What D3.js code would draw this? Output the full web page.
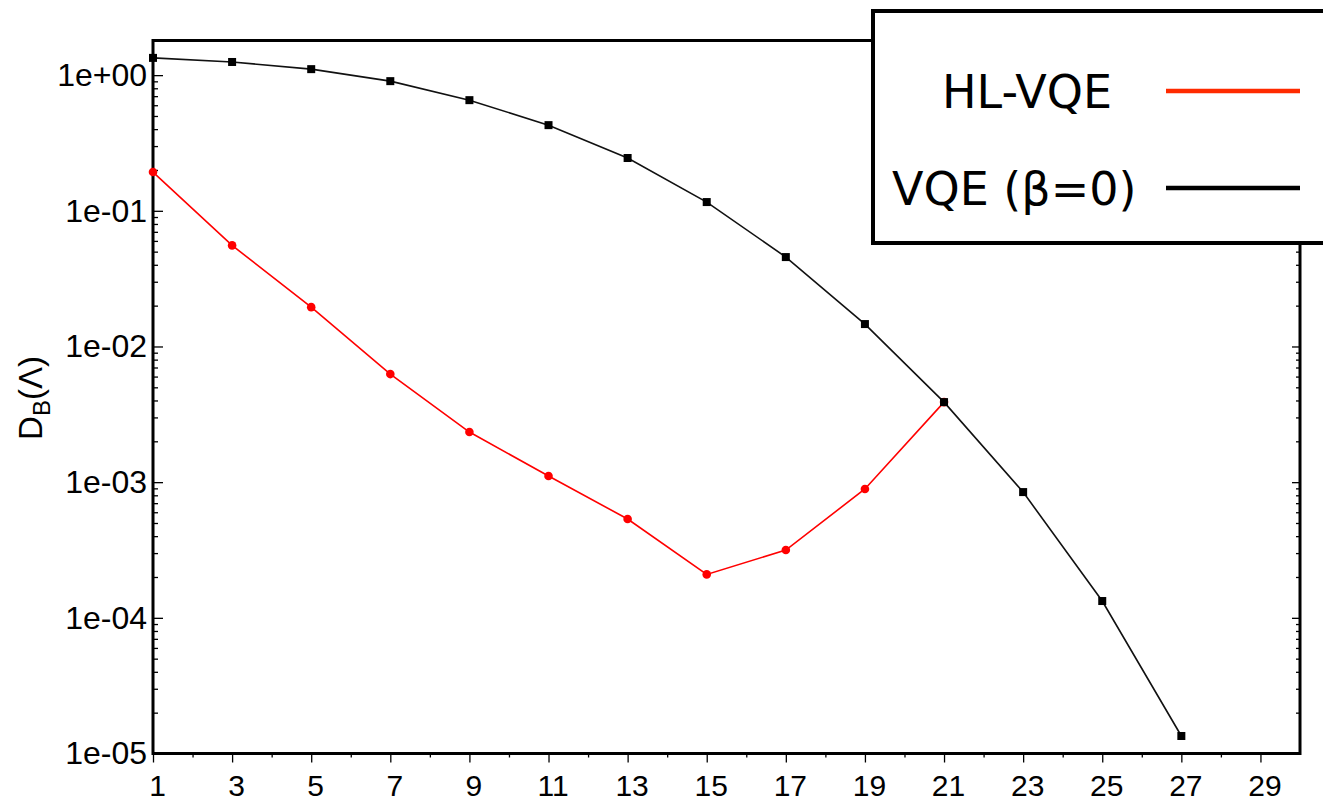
<!DOCTYPE html>
<html>
<head>
<meta charset="utf-8">
<script src="https://cdn.jsdelivr.net/npm/d3@7"></script>
<style>
  html, body { margin: 0; padding: 0; background: #fff; }
  svg { display: block; }
</style>
</head>
<body>
<svg id="chart" width="1323" height="805"></svg>
<script>
// Circuit depth (number of layers) on the x axis
const layers = [1, 3, 5, 7, 9, 11, 13, 15, 17, 19, 21, 23, 25, 27];

// Bures distance D_B(Λ) for each method
const hlVqe = [0.193, 0.0556, 0.0195, 0.00626, 0.00234, 0.00111, 0.000535, 0.000209, 0.000316, 0.000891, 0.00389];
const vqe = [1.34, 1.25, 1.107, 0.903, 0.654, 0.428, 0.245, 0.116, 0.0456, 0.01463, 0.00389, 0.000845, 0.000133, 1.346e-5];

const xTickValues = [1, 3, 5, 7, 9, 11, 13, 15, 17, 19, 21, 23, 25, 27, 29];
const yTickValues = [1e-5, 1e-4, 1e-3, 1e-2, 1e-1, 1];
const yTickLabels = ["1e-05", "1e-04", "1e-03", "1e-02", "1e-01", "1e+00"];

const legendLabels = ["HL-VQE", "VQE (β=0)"];

const svg = d3.select("#chart");
const plotL = 153, plotR = 1300, plotT = 40.5, plotB = 753.5;

const x = d3.scaleLinear().domain([1, 30]).range([plotL, plotR]);
const y = d3.scaleLog().domain([1e-5, 1.8]).range([plotB, plotT]);

// minor log ticks 2..9 in each decade
const yMinor = [];
for (let e = -5; e <= 0; e++) {
  for (let m = 2; m <= 9; m++) {
    const v = m * Math.pow(10, e);
    if (v <= 1.8) yMinor.push(v);
  }
}
const xMinor = d3.range(2, 29, 2);

const font = "'Liberation Sans', Arial, Helvetica, sans-serif";

// left axis: inward ticks, labels outside
const gLeft = svg.append("g").attr("transform", `translate(${plotL},0)`);
gLeft.call(d3.axisLeft(y).tickValues(yMinor).tickSize(-5).tickFormat(""));
gLeft.append("g").call(
  d3.axisLeft(y).tickValues(yTickValues).tickSize(-10).tickPadding(6)
    .tickFormat((d, i) => yTickLabels[i])
);

// right axis: inward ticks, no labels
const gRight = svg.append("g").attr("transform", `translate(${plotR},0)`);
gRight.call(d3.axisRight(y).tickValues(yMinor).tickSize(-4).tickFormat(""));
gRight.append("g").call(d3.axisRight(y).tickValues(yTickValues).tickSize(-8).tickFormat(""));

// bottom axis: outward ticks
const gBottom = svg.append("g").attr("transform", `translate(0,${plotB})`);
gBottom.call(d3.axisBottom(x).tickValues(xMinor).tickSize(4).tickFormat(""));
gBottom.append("g").call(
  d3.axisBottom(x).tickValues(xTickValues).tickSize(9).tickPadding(12).tickFormat(d3.format("d"))
);

svg.selectAll(".domain").remove();
svg.selectAll(".tick line").attr("stroke", "#000").attr("stroke-width", 1.3);
svg.selectAll(".tick text")
  .attr("fill", "#000")
  .style("font-family", font);
gLeft.selectAll(".tick text").style("font-size", "32px");
gBottom.selectAll(".tick text").style("font-size", "30px").attr("dx", "4");

// plot frame
svg.append("rect")
  .attr("x", plotL).attr("y", plotT)
  .attr("width", plotR - plotL).attr("height", plotB - plotT)
  .attr("fill", "none").attr("stroke", "#000").attr("stroke-width", 3);

// y axis title
const yTitle = svg.append("text")
  .attr("transform", "translate(42,398) rotate(-90)")
  .attr("text-anchor", "middle")
  .style("font-family", font)
  .style("font-size", "33px")
  .attr("fill", "#000");
yTitle.append("tspan").text("D");
yTitle.append("tspan").attr("dy", 8).style("font-size", "24px").text("B");
yTitle.append("tspan").attr("dy", -8).text("(Λ)");

// series: HL-VQE first, VQE drawn over it
const line = d3.line().x(d => x(d[0])).y(d => y(d[1]));
const vqePts = vqe.map((v, i) => [layers[i], v]);
const hlPts = hlVqe.map((v, i) => [layers[i], v]);

svg.append("path").datum(hlPts)
  .attr("d", line).attr("fill", "none").attr("stroke", "#ff0000").attr("stroke-width", 1.6);
svg.selectAll("circle.hl").data(hlPts).enter().append("circle")
  .attr("class", "hl")
  .attr("cx", d => x(d[0])).attr("cy", d => y(d[1]))
  .attr("r", 4.3).attr("fill", "#ff0000");

svg.append("path").datum(vqePts)
  .attr("d", line).attr("fill", "none").attr("stroke", "#111").attr("stroke-width", 1.6);
svg.selectAll("rect.vqe").data(vqePts).enter().append("rect")
  .attr("class", "vqe")
  .attr("x", d => x(d[0]) - 4).attr("y", d => y(d[1]) - 4)
  .attr("width", 8).attr("height", 8).attr("fill", "#000");

// legend
const legend = svg.append("g");
legend.append("rect")
  .attr("x", 873).attr("y", 11).attr("width", 500).attr("height", 232)
  .attr("fill", "#fff").attr("stroke", "#000").attr("stroke-width", 4);

const legendColors = ["#ff2a00", "#000"];
const legendTextX = [942, 892];
const legendBase = [108, 205];
const legendLineY = [91, 188];
legendLabels.forEach((lab, i) => {
  legend.append("text")
    .attr("x", legendTextX[i]).attr("y", legendBase[i])
    .style("font-family", "'DejaVu Sans', Verdana, sans-serif")
    .style("font-size", "46px")
    .attr("fill", "#000")
    .text(lab);
  legend.append("line")
    .attr("x1", 1166).attr("x2", 1300)
    .attr("y1", legendLineY[i]).attr("y2", legendLineY[i])
    .attr("stroke", legendColors[i]).attr("stroke-width", 4.5);
});
</script>
</body>
</html>
